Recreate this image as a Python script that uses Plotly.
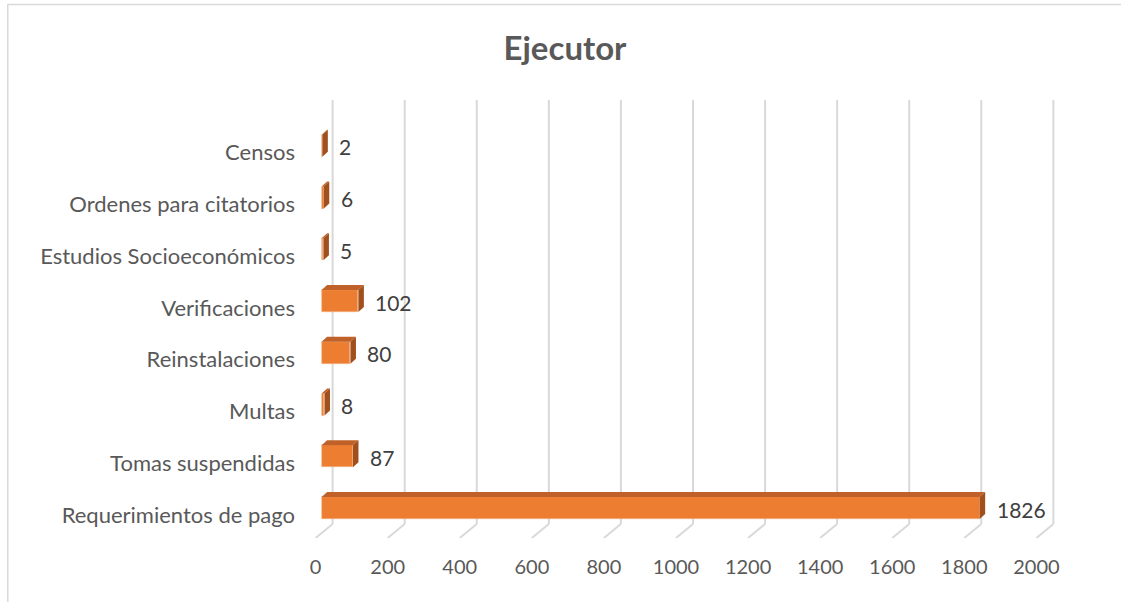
import plotly.graph_objects as go

# Activity counts, listed from the bottom bar to the top bar
categories = [
    "Requerimientos de pago",
    "Tomas suspendidas",
    "Multas",
    "Reinstalaciones",
    "Verificaciones",
    "Estudios Socioeconómicos",
    "Ordenes para citatorios",
    "Censos",
]
values = [1826, 87, 8, 80, 102, 5, 6, 2]
x_ticks = [0, 200, 400, 600, 800, 1000, 1200, 1400, 1600, 1800, 2000]

# --- page geometry (pixels) ---
W, H = 1121, 602
PX_PER_UNIT = 0.36          # horizontal scale
X0_PX = 333                 # back-wall position of value 0
ROW_PX = 51.75              # distance between category rows
ROW0_PX = 508               # centre of the bottom bar's front face
TOP_PX = 100                # top of the back wall
FLOOR_BACK_PX = 524         # back edge of the floor
FLOOR_FRONT_PX = 538        # front edge of the floor

x_range = [-60, 2060]
y_top = (ROW0_PX - TOP_PX) / ROW_PX
y_bottom = (ROW0_PX - FLOOR_FRONT_PX) / ROW_PX
y_floor_back = (ROW0_PX - FLOOR_BACK_PX) / ROW_PX
y_range = [y_bottom, y_top]

margin_l = X0_PX + x_range[0] * PX_PER_UNIT
margin_r = W - (X0_PX + x_range[1] * PX_PER_UNIT)
margin_t = TOP_PX
margin_b = H - FLOOR_FRONT_PX

# 3-D depth offsets, in data units
front_shift = 11 / PX_PER_UNIT      # bar front sits left of the back wall
floor_dx = 17 / PX_PER_UNIT         # floor depth, horizontal
floor_dy = (FLOOR_FRONT_PX - FLOOR_BACK_PX) / ROW_PX
bar_dx = 5.5 / PX_PER_UNIT          # bar depth, horizontal
bar_dy = 5 / ROW_PX                 # bar depth, vertical
bar_w = 22 / ROW_PX                 # front face height

FRONT = "#ED7D31"
TOP = "#C1612A"
SIDE = "#A0501C"
GRID = "#D9D9D9"
TEXT = "#595959"
FONT = "Lato"

idx = list(range(len(categories)))

fig = go.Figure()
fig.add_trace(go.Bar(
    y=idx,
    x=values,
    base=[-front_shift] * len(values),
    orientation="h",
    width=bar_w,
    marker=dict(color=FRONT, line=dict(color="#F4B183", width=0.6)),
    hoverinfo="skip",
    showlegend=False,
))

shapes = []
# back-wall gridlines and the slanted floor ticks
for t in x_ticks:
    shapes.append(dict(type="line", xref="x", yref="y", x0=t, x1=t,
                       y0=y_floor_back, y1=y_top, layer="below",
                       line=dict(color=GRID, width=2)))
    shapes.append(dict(type="line", xref="x", yref="y", x0=t, x1=t - floor_dx,
                       y0=y_floor_back, y1=y_floor_back - floor_dy, layer="below",
                       line=dict(color=GRID, width=2)))

# top and side faces of each bar
for i, v in zip(idx, values):
    x0 = -front_shift
    x1 = v - front_shift
    yt = i + bar_w / 2
    yb = i - bar_w / 2
    top_path = (f"M {x0},{yt} L {x1},{yt} L {x1 + bar_dx},{yt + bar_dy} "
                f"L {x0 + bar_dx},{yt + bar_dy} Z")
    side_path = (f"M {x1},{yb} L {x1},{yt} L {x1 + bar_dx},{yt + bar_dy} "
                 f"L {x1 + bar_dx},{yb + bar_dy} Z")
    shapes.append(dict(type="path", xref="x", yref="y", path=top_path,
                       fillcolor=TOP, line=dict(width=0), layer="above"))
    shapes.append(dict(type="path", xref="x", yref="y", path=side_path,
                       fillcolor=SIDE, line=dict(width=0), layer="above"))

# outer chart border
def px_to_paper_x(px):
    return (px - margin_l) / (W - margin_l - margin_r)

def px_to_paper_y(py):
    return (FLOOR_FRONT_PX - py) / (FLOOR_FRONT_PX - TOP_PX)

shapes.append(dict(type="rect", xref="paper", yref="paper",
                   x0=px_to_paper_x(8.5), x1=px_to_paper_x(W + 10),
                   y0=px_to_paper_y(H + 10), y1=px_to_paper_y(4.5),
                   line=dict(color=GRID, width=1.5), layer="below"))

annotations = []
for i, v in zip(idx, values):
    annotations.append(dict(
        x=v - front_shift, y=i, xref="x", yref="y",
        text=str(v), showarrow=False, xanchor="left", yanchor="middle",
        xshift=15, yshift=-1,
        font=dict(family=FONT, size=21, color="#404040"),
    ))

fig.update_layout(
    width=W, height=H,
    margin=dict(l=margin_l, r=margin_r, t=margin_t, b=margin_b, pad=0),
    paper_bgcolor="white", plot_bgcolor="white",
    title=dict(text="<b>Ejecutor</b>", x=565 / W, xref="container",
               y=1 - 48 / H, yref="container", xanchor="center", yanchor="middle",
               font=dict(family=FONT, size=33, color=TEXT)),
    xaxis=dict(range=x_range, tickvals=x_ticks, ticktext=[str(t) for t in x_ticks],
               showgrid=False, zeroline=False, showline=False,
               ticklabelshift=-17, ticklabelstandoff=15,
               tickfont=dict(family=FONT, size=20, color=TEXT), fixedrange=True),
    yaxis=dict(range=y_range, tickvals=idx, ticktext=categories,
               showgrid=False, zeroline=False, showline=False,
               ticklabelstandoff=15, ticklabelshift=7,
               tickfont=dict(family=FONT, size=22, color=TEXT), fixedrange=True),
    shapes=shapes,
    annotations=annotations,
    bargap=0,
)

fig.write_html("out.html")
